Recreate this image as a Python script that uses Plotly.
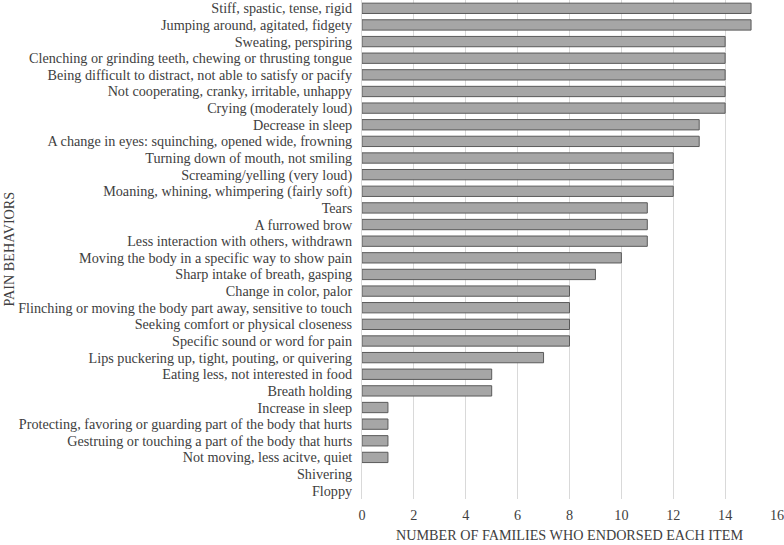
import plotly.graph_objects as go

categories = [
    "Stiff, spastic, tense, rigid",
    "Jumping around, agitated, fidgety",
    "Sweating, perspiring",
    "Clenching or grinding teeth, chewing or thrusting tongue",
    "Being difficult to distract, not able to satisfy or pacify",
    "Not cooperating, cranky, irritable, unhappy",
    "Crying (moderately loud)",
    "Decrease in sleep",
    "A change in eyes: squinching, opened wide, frowning",
    "Turning down of mouth, not smiling",
    "Screaming/yelling (very loud)",
    "Moaning, whining, whimpering (fairly soft)",
    "Tears",
    "A furrowed brow",
    "Less interaction with others, withdrawn",
    "Moving the body in a specific way to show pain",
    "Sharp intake of breath, gasping",
    "Change in color, palor",
    "Flinching or moving the body part away, sensitive to touch",
    "Seeking comfort or physical closeness",
    "Specific sound or word for pain",
    "Lips puckering up, tight, pouting, or quivering",
    "Eating less, not interested in food",
    "Breath holding",
    "Increase in sleep",
    "Protecting, favoring or guarding part of the body that hurts",
    "Gestruing or touching a part of the body that hurts",
    "Not moving, less acitve, quiet",
    "Shivering",
    "Floppy",
]
values = [15, 15, 14, 14, 14, 14, 14, 13, 13, 12, 12, 12, 11, 11, 11, 10, 9, 8, 8, 8, 8, 7, 5, 5, 1, 1, 1, 1, 0, 0]
x_ticks = [0, 2, 4, 6, 8, 10, 12, 14, 16]

fig = go.Figure(go.Bar(
    x=values, y=categories, orientation="h",
    marker=dict(color="#a6a6a6",
                line=dict(color="#5a5a5a", width=[1 if v > 0 else 0 for v in values])),
))

FS = 14.2
font = dict(family="Liberation Serif, Times New Roman, serif", size=FS, color="#404040")
fig.update_layout(
    width=784, height=545,
    margin=dict(l=362, r=7, t=0, b=46),
    plot_bgcolor="white", paper_bgcolor="white",
    font=font, bargap=0.38, showlegend=False,
    xaxis=dict(range=[0, 16], tickmode="array", tickvals=x_ticks, showgrid=True,
               gridcolor="#d9d9d9", gridwidth=1, zeroline=False, showline=False,
               ticks="", automargin=False, ticklabelstandoff=6, ticklabeloverflow="allow",
               title=dict(text="NUMBER OF FAMILIES WHO ENDORSED EACH ITEM", standoff=7,
                          font=dict(size=FS))),
    yaxis=dict(tickmode="array", tickvals=categories, showgrid=False, zeroline=False,
               showline=True, linecolor="#d9d9d9", ticks="", ticklabelstandoff=6,
               automargin=False, range=[len(categories) - 0.5, -0.5], autorange=False),
    annotations=[dict(text="PAIN BEHAVIORS", textangle=-90, xref="paper", yref="paper",
                      x=(8 - 362) / 415, y=0.5, xanchor="center", yanchor="middle",
                      showarrow=False, font=dict(size=FS))],
)
fig.write_html("out.html", config={"displayModeBar": False},
               post_script="document.body.style.margin='0';document.body.style.padding='0';")
